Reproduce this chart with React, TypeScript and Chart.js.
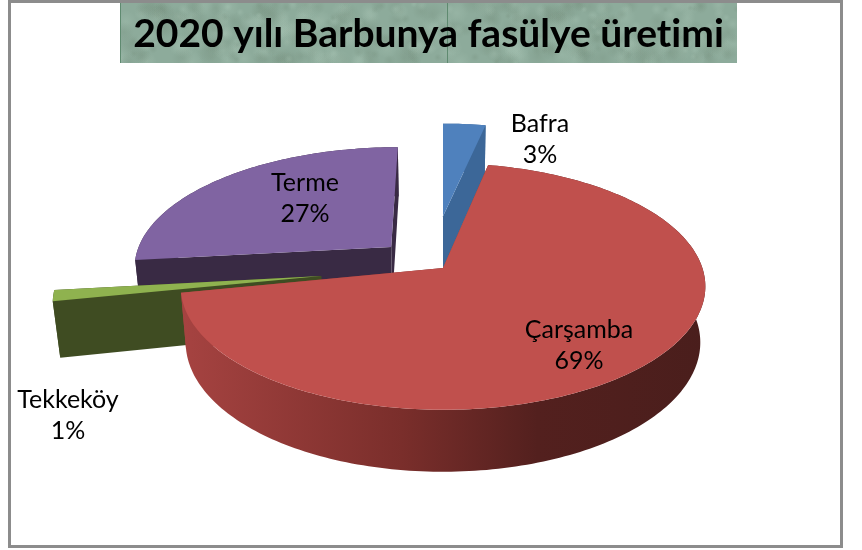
import React, { useEffect, useRef } from "react";
import { Chart, registerables } from "chart.js";

Chart.register(...registerables);

const TITLE = "2020 yılı Barbunya fasülye üretimi";
const categories = ["Bafra", "Çarşamba", "Tekkeköy", "Terme"];
const shares = [3.2, 68.6, 1.4, 26.8];
const topColors = ["#4f81bd", "#c0504d", "#8fb24f", "#8064a2"];
// Per-slice explosion in the pie plane, as a fraction of the radius
const explodeAcross = [0, 0, -0.465, -0.205];
const explodeToward = [-0.46, 0, 0.065, -0.18];
const drawOrder = [3, 0, 2, 1];
const wallStops: [number, string][][] = [
  [[0, "#3c6798"], [1, "#3c6798"]],
  [[0, "#a64341"], [0.42, "#7a2e2b"], [0.68, "#53201e"], [1, "#4a1e1c"]],
  [[0, "#3f4c22"], [1, "#3f4c22"]],
  [[0, "#392a44"], [1, "#392a44"]],
];
const labelAnchors = [
  [540, 124],
  [579, 330],
  [68, 400],
  [305, 183],
];

// View of the pie plane
const VIEW = { x: 443, y: 268, r: 262, depth: 55, tilt: 0.46, persp: 0.15, fx: 0.99, taper: 0.00035 };

function project(u: number, v: number, z: number): [number, number] {
  const w = 1 - (VIEW.persp * v) / VIEW.r;
  const s = 1 - z * VIEW.taper;
  return [VIEW.x + (VIEW.fx * u * s) / w, VIEW.y + (VIEW.tilt * v * s + z) / w];
}

function tracePath(ctx: CanvasRenderingContext2D, pts: [number, number][]) {
  ctx.beginPath();
  pts.forEach((p, i) => (i ? ctx.lineTo(p[0], p[1]) : ctx.moveTo(p[0], p[1])));
  ctx.closePath();
}

const banner = { id: "banner", beforeDraw(chart: any) {
  const ctx: CanvasRenderingContext2D = chart.ctx;
  (ctx as any).textRendering = "optimizeSpeed";
  ctx.save();
  ctx.fillStyle = "#ffffff";
  ctx.fillRect(0, 0, 862, 550);
  ctx.strokeStyle = "#8c8c8c";
  ctx.lineWidth = 3;
  ctx.strokeRect(9.5, 1.5, 832, 545);
  const bx = 120, by = 3, bw = 617, bh = 60;
  ctx.beginPath();
  ctx.rect(bx, by, bw, bh);
  ctx.clip();
  ctx.fillStyle = "#8dab9b";
  ctx.fillRect(bx, by, bw, bh);
  // marble mottling: fixed sequence from a small congruential generator
  let seed = 4711;
  const next = () => (seed = (seed * 16807) % 2147483647) / 2147483647;
  for (let i = 0; i < 420; i++) {
    const x = bx + next() * bw;
    const y = by + next() * bh;
    const r = 3 + next() * 10;
    const light = next() > 0.5;
    const g = ctx.createRadialGradient(x, y, 0, x, y, r);
    g.addColorStop(0, light ? "rgba(170,198,182,0.32)" : "rgba(118,144,126,0.3)");
    g.addColorStop(1, light ? "rgba(170,198,182,0)" : "rgba(118,144,126,0)");
    ctx.fillStyle = g;
    ctx.fillRect(x - r, y - r, 2 * r, 2 * r);
  }
  ctx.fillStyle = "#5f8a70";
  ctx.fillRect(bx, by, 1, bh);
  ctx.fillRect(447, by, 1, bh);
  ctx.restore();
} };

const pie3d = { id: "pie3d",
  beforeDatasetsDraw(chart: any) {
    const ctx: CanvasRenderingContext2D = chart.ctx;
    const arcs = chart.getDatasetMeta(0).data;
    ctx.save();
    for (const i of drawOrder) {
      const arc = arcs[i];
      const a0 = arc.startAngle, a1 = arc.endAngle;
      const cu = explodeAcross[i] * VIEW.r, cv = explodeToward[i] * VIEW.r;
      const rim: [number, number][] = [];
      const n = Math.max(2, Math.ceil((a1 - a0) / 0.02));
      for (let k = 0; k <= n; k++) {
        const a = a0 + ((a1 - a0) * k) / n;
        rim.push([cu + VIEW.r * Math.cos(a), cv + VIEW.r * Math.sin(a)]);
      }
      const top = rim.map((p) => project(p[0], p[1], 0));
      const bot = rim.map((p) => project(p[0], p[1], VIEW.depth));
      const xs = top.map((p) => p[0]);
      const grad = ctx.createLinearGradient(Math.min(...xs), 0, Math.max(...xs), 0);
      wallStops[i].forEach(([o, c]) => grad.addColorStop(o, c));
      ctx.fillStyle = grad;
      const apexT = project(cu, cv, 0), apexB = project(cu, cv, VIEW.depth);
      // radial walls
      tracePath(ctx, [apexT, top[0], bot[0], apexB]);
      ctx.fill();
      tracePath(ctx, [apexT, top[n], bot[n], apexB]);
      ctx.fill();
      // curved wall
      tracePath(ctx, [...top, ...bot.slice().reverse()]);
      ctx.fill();
      // top face
      ctx.fillStyle = arc.options.backgroundColor;
      tracePath(ctx, [apexT, ...top]);
      ctx.fill();
    }
    ctx.restore();
    return false;
  },
  afterDraw(chart: any) {
    const ctx: CanvasRenderingContext2D = chart.ctx;
    const values = chart.data.datasets[0].data;
    ctx.save();
    ctx.fillStyle = "#000000";
    ctx.font = '25px Lato, "Open Sans", sans-serif';
    ctx.textAlign = "center";
    ctx.textBaseline = "middle";
    chart.data.labels.forEach((name: string, i: number) => {
      const [x, y] = labelAnchors[i];
      ctx.fillText(name, x, y);
      ctx.fillText(Math.round(values[i]) + "%", x, y + 31);
    });
    ctx.restore();
  },
};

export default function App() {
  const ref = useRef<HTMLCanvasElement>(null);
  useEffect(() => {
    const chart = new Chart(ref.current!, {
      type: "pie",
      data: {
        labels: categories,
        datasets: [{ data: shares, backgroundColor: topColors, borderWidth: 0 }],
      },
      options: {
        animation: false,
        responsive: false,
        devicePixelRatio: 1,
        layout: { padding: { left: 0, right: 5, top: 0, bottom: 0 } },
        plugins: {
          legend: { display: false },
          tooltip: { enabled: false },
          title: {
            display: true,
            text: TITLE,
            color: "#000000",
            font: { family: 'Lato, "Open Sans", sans-serif', size: 39, weight: "bold" },
            padding: { top: 11, bottom: 6 },
          },
        },
      },
      plugins: [banner, pie3d],
    } as any);
    return () => chart.destroy();
  }, []);
  return (
    <canvas
      ref={ref}
      width={862}
      height={550}
      style={{ position: "fixed", left: 0, top: 0, width: 862, height: 550, display: "block" }}
    />
  );
}
